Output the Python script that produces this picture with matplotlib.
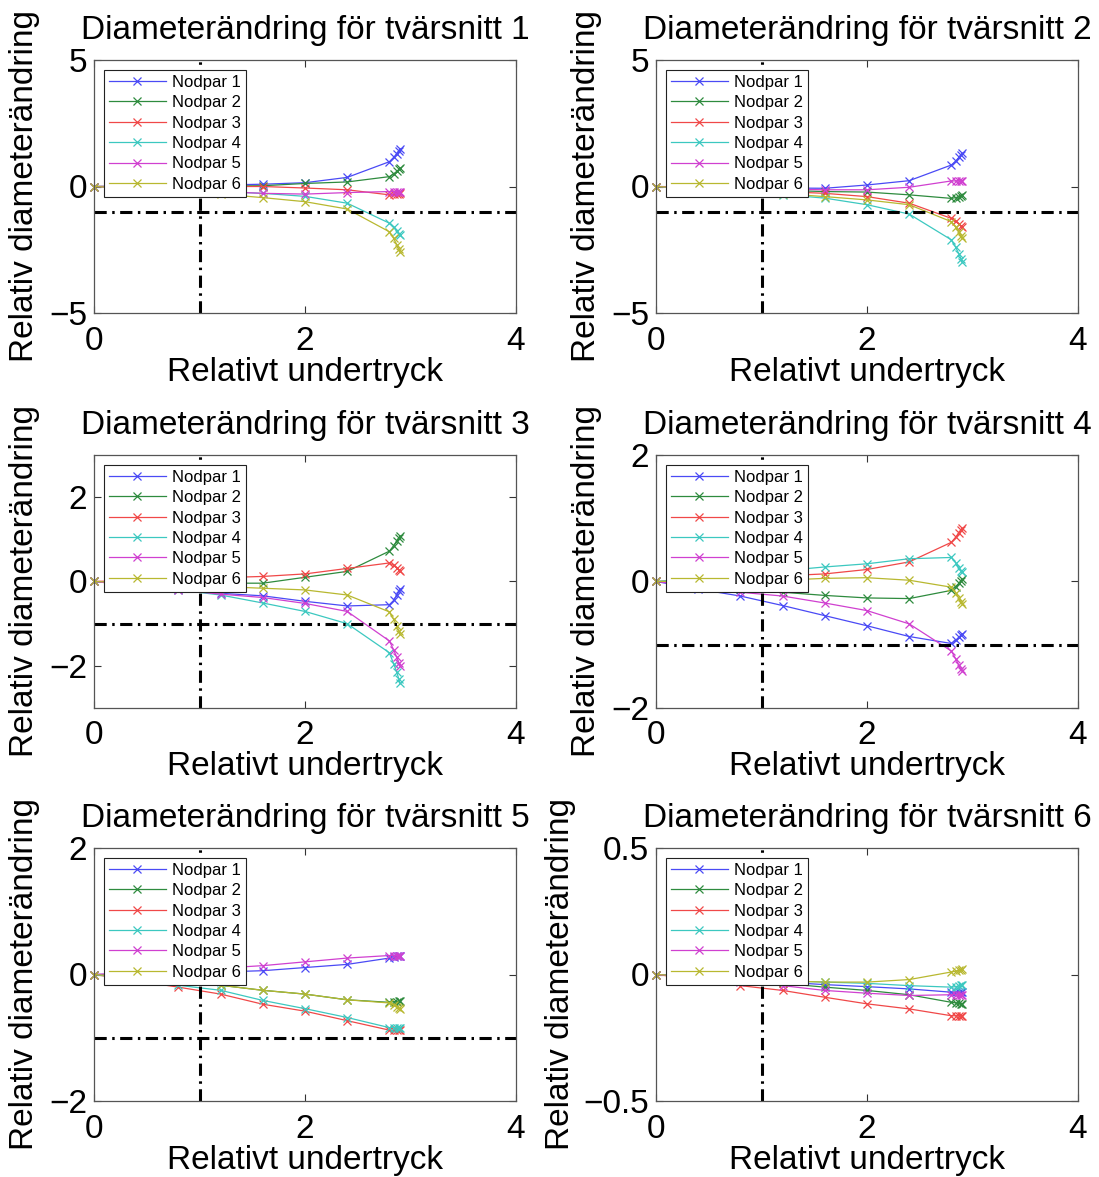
import matplotlib
matplotlib.use('Agg')
import matplotlib.pyplot as plt

plt.rcParams['font.family'] = ['Liberation Sans', 'DejaVu Sans']

# relativt undertryck (samma steg for alla tvarsnitt)
x_points = [0, 0.4, 0.8, 1.2, 1.6, 2.0, 2.4, 2.8, 2.84, 2.87, 2.89, 2.9]

snitt1 = [
    [0, 0.02, 0.04, 0.06, 0.09, 0.15, 0.36, 0.98, 1.15, 1.3, 1.42, 1.5],
    [0, 0.0, 0.01, 0.02, 0.03, 0.12, 0.18, 0.39, 0.5, 0.6, 0.68, 0.72],
    [0, 0, 0, 0, 0, -0.06, -0.13, -0.33, -0.31, -0.29, -0.28, -0.27],
    [0, -0.05, -0.12, -0.2, -0.27, -0.39, -0.66, -1.45, -1.6, -1.75, -1.86, -1.92],
    [0, -0.06, -0.13, -0.2, -0.27, -0.3, -0.24, -0.2, -0.2, -0.2, -0.2, -0.2],
    [0, -0.08, -0.18, -0.3, -0.44, -0.6, -0.89, -1.79, -2.05, -2.3, -2.48, -2.58],
]
snitt2 = [
    [0, -0.02, -0.04, -0.06, -0.07, 0.06, 0.23, 0.85, 1.0, 1.15, 1.25, 1.31],
    [0, -0.05, -0.1, -0.15, -0.2, -0.22, -0.33, -0.47, -0.44, -0.4, -0.36, -0.33],
    [0, -0.06, -0.13, -0.2, -0.27, -0.4, -0.66, -1.26, -1.38, -1.48, -1.55, -1.59],
    [0, -0.1, -0.2, -0.32, -0.46, -0.72, -1.09, -2.11, -2.4, -2.65, -2.85, -2.97],
    [0, -0.03, -0.07, -0.1, -0.13, -0.13, -0.03, 0.22, 0.22, 0.22, 0.22, 0.22],
    [0, -0.08, -0.17, -0.28, -0.4, -0.53, -0.72, -1.39, -1.6, -1.8, -1.95, -2.05],
]
snitt3 = [
    [0, -0.08, -0.17, -0.28, -0.34, -0.47, -0.58, -0.55, -0.45, -0.32, -0.23, -0.18],
    [0, -0.02, -0.03, -0.04, -0.04, 0.1, 0.24, 0.72, 0.85, 0.96, 1.04, 1.08],
    [0, 0.03, 0.06, 0.09, 0.12, 0.18, 0.31, 0.44, 0.38, 0.32, 0.27, 0.24],
    [0, -0.1, -0.2, -0.32, -0.51, -0.71, -1.0, -1.69, -1.95, -2.15, -2.32, -2.41],
    [0, -0.1, -0.2, -0.3, -0.38, -0.52, -0.71, -1.41, -1.62, -1.8, -1.93, -2.0],
    [0, -0.04, -0.08, -0.12, -0.16, -0.2, -0.32, -0.72, -0.9, -1.05, -1.18, -1.25],
]
snitt4 = [
    [0, -0.12, -0.23, -0.38, -0.54, -0.7, -0.87, -0.98, -0.93, -0.88, -0.85, -0.83],
    [0, -0.06, -0.12, -0.17, -0.22, -0.26, -0.27, -0.14, -0.08, -0.03, 0.01, 0.04],
    [0, 0.03, 0.06, 0.09, 0.12, 0.19, 0.31, 0.62, 0.7, 0.77, 0.81, 0.84],
    [0, 0.05, 0.1, 0.17, 0.23, 0.28, 0.36, 0.38, 0.3, 0.22, 0.17, 0.15],
    [0, -0.08, -0.17, -0.23, -0.34, -0.46, -0.67, -1.1, -1.22, -1.32, -1.38, -1.41],
    [0, 0.01, 0.02, 0.02, 0.05, 0.06, 0.02, -0.09, -0.18, -0.26, -0.32, -0.35],
]
snitt5 = [
    [0, 0.01, 0.02, 0.04, 0.06, 0.11, 0.16, 0.26, 0.28, 0.29, 0.3, 0.3],
    [0, -0.05, -0.1, -0.17, -0.25, -0.31, -0.4, -0.44, -0.43, -0.43, -0.42, -0.42],
    [0, -0.1, -0.2, -0.31, -0.47, -0.58, -0.73, -0.88, -0.88, -0.87, -0.87, -0.87],
    [0, -0.08, -0.17, -0.25, -0.41, -0.54, -0.68, -0.84, -0.84, -0.84, -0.84, -0.84],
    [0, 0.03, 0.06, 0.1, 0.14, 0.2, 0.26, 0.3, 0.3, 0.3, 0.3, 0.3],
    [0, -0.05, -0.1, -0.17, -0.25, -0.31, -0.4, -0.45, -0.48, -0.51, -0.53, -0.54],
]
snitt6 = [
    [0, -0.01, -0.02, -0.03, -0.04, -0.048, -0.057, -0.07, -0.07, -0.07, -0.07, -0.07],
    [0, -0.01, -0.02, -0.035, -0.05, -0.063, -0.08, -0.11, -0.112, -0.114, -0.115, -0.116],
    [0, -0.02, -0.044, -0.063, -0.09, -0.116, -0.136, -0.163, -0.163, -0.163, -0.163, -0.163],
    [0, -0.01, -0.02, -0.025, -0.03, -0.035, -0.044, -0.05, -0.048, -0.045, -0.042, -0.04],
    [0, -0.015, -0.03, -0.044, -0.063, -0.074, -0.083, -0.08, -0.08, -0.08, -0.08, -0.08],
    [0, -0.01, -0.02, -0.025, -0.03, -0.03, -0.02, 0.01, 0.013, 0.016, 0.018, 0.02],
]

all_snitt = [snitt1, snitt2, snitt3, snitt4, snitt5, snitt6]
y_limits = [(-5, 5), (-5, 5), (-3, 3), (-2, 2), (-2, 2), (-0.5, 0.5)]
y_ticks = [[-5, 0, 5], [-5, 0, 5], [-2, 0, 2], [-2, 0, 2], [-2, 0, 2], [-0.5, 0, 0.5]]
y_ticklabels = [['\u22125', '0', '5'], ['\u22125', '0', '5'], ['\u22122', '0', '2'],
                ['\u22122', '0', '2'], ['\u22122', '0', '2'], ['\u22120.5', '0', '0.5']]
x_ticks = [0, 2, 4]
labels = ['Nodpar 1', 'Nodpar 2', 'Nodpar 3', 'Nodpar 4', 'Nodpar 5', 'Nodpar 6']
colors = ['#4a4af5', '#2e8b3e', '#f04848', '#3cc8c0', '#d040d0', '#b8b830']

W, H = 1099, 1177
fig = plt.figure(figsize=(W / 100, H / 100), dpi=100)

lefts = [94, 656]
tops = [60, 455, 848]
aw, ah = 422, 253

for i, data in enumerate(all_snitt):
    row, col = divmod(i, 2)
    ax = fig.add_axes([lefts[col] / W, 1 - (tops[row] + ah) / H, aw / W, ah / H])
    for series, lab, c in zip(data, labels, colors):
        ax.plot(x_points, series, '-x', color=c, lw=0.9, ms=5.5, mew=0.9,
                label=lab, clip_on=False)
    dash = (0, (4, 1.8, 0.8, 1.8))
    ax.axvline(1, color='black', lw=2.2, linestyle=dash)
    if y_limits[i][0] < -1:
        ax.axhline(-1, color='black', lw=2.2, linestyle=dash)
    ax.set_xlim(0, 4)
    ax.set_ylim(*y_limits[i])
    ax.set_xticks(x_ticks)
    ax.set_xticklabels([str(t) for t in x_ticks])
    ax.set_yticks(y_ticks[i])
    ax.set_yticklabels(y_ticklabels[i])
    ax.tick_params(direction='in', length=5, width=0.8, top=True, right=True,
                   labelsize=24, colors='#333333', labelcolor='black')
    ax.tick_params(axis='x', pad=9)
    ax.tick_params(axis='y', pad=5)
    for sp in ax.spines.values():
        sp.set_color('#555555')
        sp.set_linewidth(0.9)
    ax.set_title(f'Diameterändring för tvärsnitt {i + 1}', fontsize=24, pad=15)
    ax.set_xlabel('Relativt undertryck', fontsize=24, labelpad=0)
    ax.set_ylabel('Relativ diameterändring', fontsize=24)
    # wider tick labels in the last panel push the label further out
    ax.yaxis.set_label_coords(-0.19 if i == 5 else -0.128, 0.5)
    leg = ax.legend(loc='upper left', fontsize=12, numpoints=1, fancybox=False,
                    framealpha=1, edgecolor='#222222', borderaxespad=0.6,
                    handlelength=3.4, handletextpad=0.4, labelspacing=0.32,
                    borderpad=0.3)
    leg.get_frame().set_linewidth(0.8)

fig.savefig('out.png', dpi=100)
